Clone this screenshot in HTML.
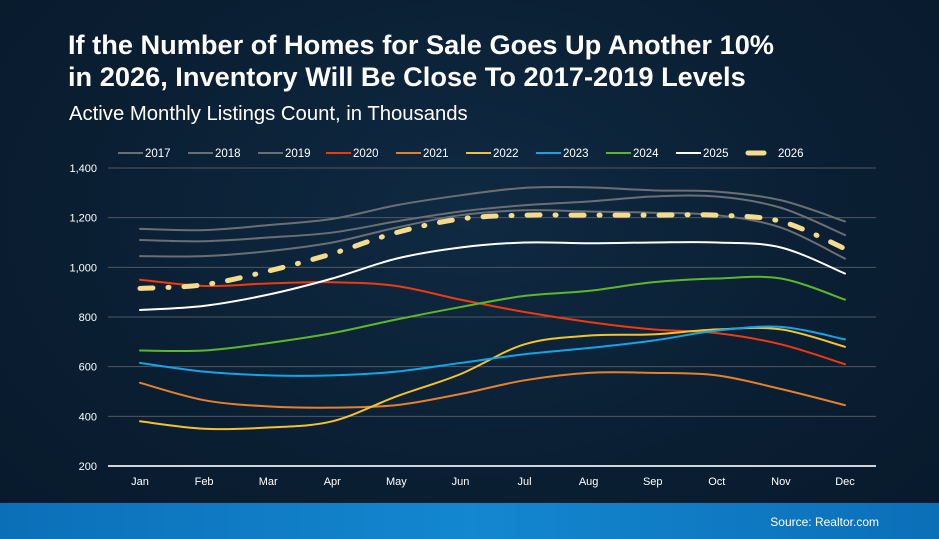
<!DOCTYPE html>
<html><head><meta charset="utf-8"><style>
body{margin:0;width:939px;height:539px;overflow:hidden;background:#0a1d30;font-family:"Liberation Sans",sans-serif;}
#wrap{position:relative;width:939px;height:539px;background:radial-gradient(ellipse at 50% 40%,#0f2a42 0%,#0a1e32 60%,#081a2c 100%);}
h1{position:absolute;left:68px;top:29px;margin:0;color:#fff;font-size:27.2px;line-height:32px;font-weight:bold;}
.sub{position:absolute;left:69px;top:103px;color:#fff;font-size:20.3px;}
.foot{position:absolute;left:0;top:503px;width:939px;height:36px;background:linear-gradient(90deg,#0b6fb8,#1387d0 50%,#0b6fb8);}
.src{position:absolute;right:60px;top:12px;color:#fff;font-size:12px;}
svg{position:absolute;left:0;top:0;}
</style></head><body>
<div id="wrap">
<h1>If the Number of Homes for Sale Goes Up Another 10%<br>in 2026, Inventory Will Be Close To 2017-2019 Levels</h1>
<div class="sub">Active Monthly Listings Count, in Thousands</div>
<svg id="chart" width="939" height="539"></svg>
<div class="foot"><span class="src">Source: Realtor.com</span></div>
</div>
<script>
const months=["Jan","Feb","Mar","Apr","May","Jun","Jul","Aug","Sep","Oct","Nov","Dec"];
const yTicks=[200,400,600,800,1000,1200,1400];
const seriesNames=["2017","2018","2019","2020","2021","2022","2023","2024","2025","2026"];
const v2017=[1155,1150,1170,1195,1250,1290,1320,1322,1310,1305,1270,1185];
const v2018=[1110,1105,1120,1140,1185,1225,1250,1265,1285,1285,1240,1130];
const v2019=[1045,1045,1065,1100,1160,1210,1230,1225,1220,1210,1160,1035];
const v2020=[950,925,935,940,925,870,820,780,750,735,690,610];
const v2021=[535,465,440,435,445,490,545,575,575,565,510,445];
const v2022=[380,350,355,380,480,570,690,725,730,750,750,680];
const v2023=[615,580,565,565,580,615,650,675,705,745,760,710];
const v2024=[665,665,695,735,790,840,885,905,940,955,955,870];
const v2025=[828,845,890,955,1035,1080,1100,1097,1100,1100,1080,975];
const v2026=[915,930,985,1055,1140,1195,1210,1210,1210,1210,1185,1075];
const allValues=[v2017,v2018,v2019,v2020,v2021,v2022,v2023,v2024,v2025,v2026];
const colors=["#6b6f73","#6b6f73","#6b6f73","#f03a0e","#e5802c","#f2c230","#12a6e8","#5cb82a","#ffffff","#f5dc8c"];
const NS="http://www.w3.org/2000/svg";
const svg=document.getElementById('chart');
const x0=108,x1=876,yTop=168,yBot=466;
function xs(i){return 140+i*(845-140)/11;}
function ys(v){return yBot-(v-200)*(yBot-yTop)/1200;}
function mk(t,a){const e=document.createElementNS(NS,t);for(const k in a)e.setAttribute(k,a[k]);svg.appendChild(e);return e;}
yTicks.forEach(t=>{
  const l=mk('line',{x1:x0,x2:x1,y1:ys(t),y2:ys(t),stroke:t===200?'#d0d4d8':'#4f5863','stroke-width':t===200?2:1});
  
  
  const tx=mk('text',{x:97,y:ys(t)+4,'text-anchor':'end',fill:'#fff','font-size':11});
  tx.textContent=t.toLocaleString('en-US');
  
  
});
months.forEach((m,i)=>{
  const tx=mk('text',{x:xs(i),y:485,'text-anchor':'middle',fill:'#fff','font-size':11});
  tx.textContent=m;
  
  
});
function pathD(vals){
  const p=vals.map((v,i)=>[xs(i),ys(v)]);
  let d='M'+p[0][0]+','+p[0][1];
  for(let i=0;i<p.length-1;i++){
    const a=p[Math.max(i-1,0)],b=p[i],c=p[i+1],e=p[Math.min(i+2,p.length-1)];
    d+=' C'+(b[0]+(c[0]-a[0])/6)+','+(b[1]+(c[1]-a[1])/6)+' '+(c[0]-(e[0]-b[0])/6)+','+(c[1]-(e[1]-b[1])/6)+' '+c[0]+','+c[1];
  }
  return d;
}
allValues.forEach((vals,s)=>{
  const is26=s===9;
  const p=mk('path',{d:pathD(vals),fill:'none',stroke:colors[s],'stroke-width':is26?5:2,'stroke-linecap':'round'});
  if(is26)p.setAttribute('stroke-dasharray','13 15 1 15');
  
  
});
const legX=[118,188,258,326,396,466,536,606,676,748];
seriesNames.forEach((n,s)=>{
  const lx=legX[s];
  const is26=s===9;
  const l=mk('line',{x1:lx,x2:lx+(is26?16:25),y1:153,y2:153,stroke:colors[s],'stroke-width':is26?5:2,'stroke-linecap':is26?'round':'butt'});
  
  
  const t=mk('text',{x:lx+(is26?30:27),y:157,fill:'#fff','font-size':11.5});
  t.textContent=n;
  
  
});
</script>
</body></html>
